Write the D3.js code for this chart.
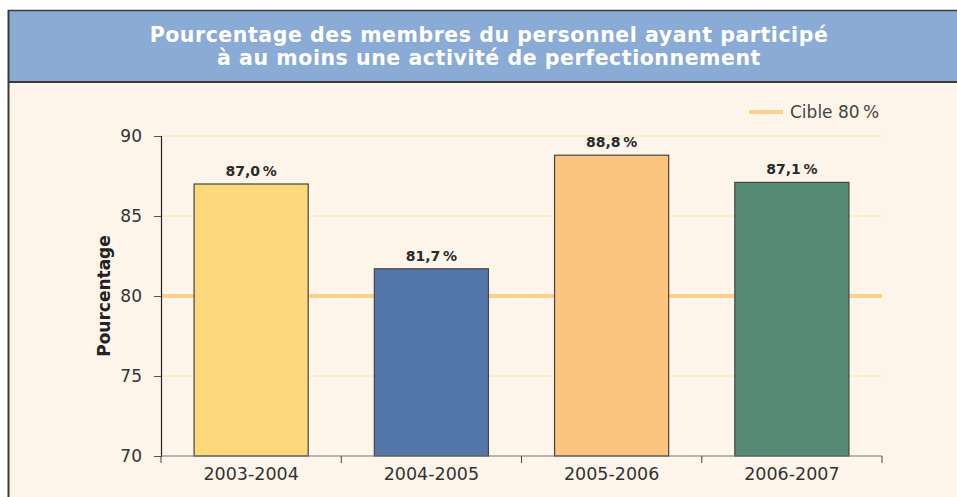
<!DOCTYPE html>
<html>
<head>
<meta charset="utf-8">
<script src="https://cdn.jsdelivr.net/npm/d3@7"></script>
<style>
body { margin: 0; background: #fff; }
svg text { font-family: "DejaVu Sans", sans-serif; }
</style>
</head>
<body>
<svg width="957" height="497"></svg>
<script>
var years = ["2003-2004", "2004-2005", "2005-2006", "2006-2007"]
var values = [87.0, 81.7, 88.8, 87.1]
var labels = ["87,0\u2009%", "81,7\u2009%", "88,8\u2009%", "87,1\u2009%"]
var colors = ["#fdd97c", "#5277a8", "#fdc47f", "#578a76"]
var yTicks = [70, 75, 80, 85, 90]
var target = 80
var titleLines = ["Pourcentage des membres du personnel ayant participé",
                  "à au moins une activité de perfectionnement"]

var svg = d3.select("svg")

// panel
svg.append("rect").attr("x", 8).attr("y", 10).attr("width", 960).attr("height", 500)
  .attr("fill", "#fdf5ea")
svg.append("rect").attr("x", 8).attr("y", 10).attr("width", 960).attr("height", 72)
  .attr("fill", "#8aabd6")
svg.append("line").attr("x1", 8).attr("x2", 957).attr("y1", 10.5).attr("y2", 10.5)
  .attr("stroke", "#3a3a3a").attr("stroke-width", 1.5)
svg.append("line").attr("x1", 8).attr("x2", 957).attr("y1", 82).attr("y2", 82)
  .attr("stroke", "#3a3a3a").attr("stroke-width", 2)
svg.append("line").attr("x1", 8.5).attr("x2", 8.5).attr("y1", 10).attr("y2", 497)
  .attr("stroke", "#3a3a3a").attr("stroke-width", 2)

svg.selectAll(".title").data(titleLines).enter().append("text")
  .attr("class", "title")
  .attr("x", 489).attr("y", (d, i) => 42 + i * 23)
  .attr("text-anchor", "middle")
  .attr("fill", "#fff").attr("font-size", "20.5px").attr("font-weight", "bold")
  .attr("letter-spacing", "0.55px")
  .text(d => d)

var x = d3.scaleBand().domain(years).range([161, 882]).paddingInner(0.367).paddingOuter(0.1835)
var y = d3.scaleLinear().domain([70, 90]).range([456, 136])

// gridlines
svg.selectAll(".grid").data(yTicks.filter(d => d != 70 && d != target)).enter().append("line")
  .attr("x1", 161).attr("x2", 882)
  .attr("y1", d => y(d)).attr("y2", d => y(d))
  .attr("stroke", "#fde2b5").attr("stroke-width", 1)

// target line
svg.append("line").attr("x1", 161).attr("x2", 882)
  .attr("y1", y(target)).attr("y2", y(target))
  .attr("stroke", "#fdd08a").attr("stroke-width", 4)

// bars
svg.selectAll(".bar").data(values).enter().append("rect")
  .attr("x", (d, i) => x(years[i]))
  .attr("y", d => y(d))
  .attr("width", x.bandwidth())
  .attr("height", d => y(70) - y(d))
  .attr("fill", (d, i) => colors[i])
  .attr("stroke", "#444").attr("stroke-width", 1.2)

svg.selectAll(".val").data(values).enter().append("text")
  .attr("x", (d, i) => x(years[i]) + x.bandwidth() / 2)
  .attr("y", d => y(d) - 8)
  .attr("text-anchor", "middle")
  .attr("font-size", "14px").attr("font-weight", "bold").attr("fill", "#2a2a2a")
  .text((d, i) => labels[i])

// y axis
var yAxis = d3.axisLeft(y).tickValues(yTicks).tickSize(7).tickPadding(12).tickFormat(d3.format("d"))
var gy = svg.append("g").attr("transform", "translate(161,0)").call(yAxis)
gy.select(".domain").attr("stroke", "#222").attr("stroke-width", 1.2)
gy.selectAll(".tick line").attr("stroke", "#555")
gy.selectAll(".tick text").attr("font-size", "17px").attr("fill", "#333")
  .attr("font-family", "DejaVu Sans, sans-serif")

// x axis with boundary ticks
svg.append("line").attr("x1", 161).attr("x2", 882).attr("y1", 456).attr("y2", 456)
  .attr("stroke", "#777").attr("stroke-width", 1.2)
var bounds = years.map(d => x(d) - x.step() * x.paddingInner() / 2)
bounds.push(882)
svg.selectAll(".xtick").data(bounds).enter().append("line")
  .attr("x1", d => d).attr("x2", d => d).attr("y1", 456).attr("y2", 463)
  .attr("stroke", "#444")
svg.selectAll(".xlab").data(years).enter().append("text")
  .attr("x", d => x(d) + x.bandwidth() / 2).attr("y", 480)
  .attr("text-anchor", "middle").attr("font-size", "17.5px").attr("fill", "#333")
  .text(d => d)

svg.append("text")
  .attr("transform", "translate(110,296) rotate(-90)")
  .attr("text-anchor", "middle")
  .attr("font-size", "17px").attr("font-weight", "bold").attr("fill", "#222")
  .text("Pourcentage")

// legend
svg.append("line").attr("x1", 749).attr("x2", 783).attr("y1", 112).attr("y2", 112)
  .attr("stroke", "#fdd08a").attr("stroke-width", 4)
svg.append("text").attr("x", 790).attr("y", 118)
  .attr("font-size", "17px").attr("fill", "#444")
  .text("Cible 80\u2009%")
</script>
</body>
</html>
